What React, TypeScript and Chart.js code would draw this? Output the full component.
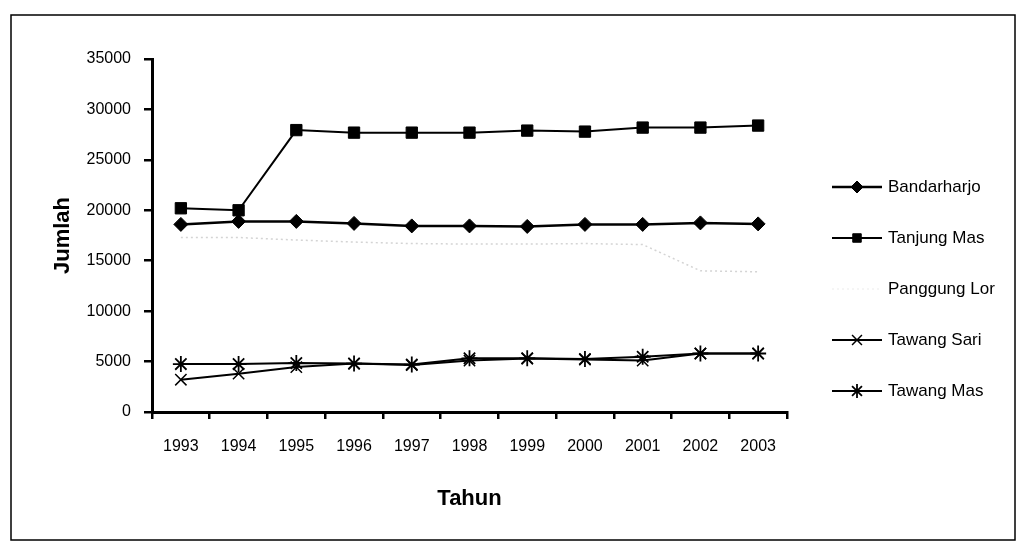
import React, { useEffect, useRef } from "react";
import { Chart, registerables } from "chart.js";
import { drawPoint } from "chart.js/helpers";

Chart.register(...registerables);

const years = ["1993", "1994", "1995", "1996", "1997", "1998", "1999", "2000", "2001", "2002", "2003"];
const bandarharjo = [18600, 18900, 18900, 18700, 18450, 18450, 18400, 18600, 18600, 18750, 18650];
const tanjungMas = [20200, 20000, 27950, 27700, 27700, 27700, 27900, 27800, 28200, 28200, 28400];
const panggungLor = [17300, 17300, 17050, 16850, 16700, 16650, 16650, 16700, 16600, 14000, 13900];
const tawangSari = [3200, 3800, 4450, 4800, 4650, 5100, 5300, 5200, 5100, 5800, 5800];
const tawangMas = [4750, 4750, 4850, 4800, 4700, 5320, 5320, 5250, 5480, 5800, 5800];
const yMin = 0;
const yMax = 35000;
const yStep = 5000;

const FONT = "'Liberation Sans', Arial, sans-serif";

const frameAndLegend = {
  id: "frameAndLegend",
  beforeDraw(chart: any) {
    const ctx = chart.ctx;
    ctx.save();
    ctx.fillStyle = "#ffffff";
    ctx.fillRect(0, 0, chart.width, chart.height);
    ctx.strokeStyle = "#000000";
    ctx.lineWidth = 1.5;
    ctx.strokeRect(11, 15, 1004, 525);
    ctx.restore();
  },
  afterDraw(chart: any) {
    const ctx = chart.ctx;
    ctx.save();
    chart.data.datasets.forEach((ds: any, i: number) => {
      const y = 187 + 51 * i;
      ctx.save();
      ctx.strokeStyle = ds.legendLineColor || ds.borderColor;
      ctx.lineWidth = ds.borderWidth;
      ctx.setLineDash(ds.borderDash || []);
      ctx.beginPath();
      ctx.moveTo(832, y);
      ctx.lineTo(882, y);
      ctx.stroke();
      ctx.restore();
      if (ds.pointRadius > 0) {
        ctx.save();
        ctx.fillStyle = ds.pointBackgroundColor;
        ctx.strokeStyle = ds.pointBorderColor;
        ctx.lineWidth = ds.pointBorderWidth;
        drawPoint(ctx, { pointStyle: ds.pointStyle, rotation: 0, borderWidth: ds.pointBorderWidth, radius: ds.legendRadius }, 857, y);
        ctx.restore();
      }
      ctx.fillStyle = "#000000";
      ctx.font = `17px ${FONT}`;
      ctx.textBaseline = "middle";
      ctx.textAlign = "left";
      ctx.fillText(ds.label, 888, y);
    });
    ctx.restore();
  },
};

export default function App() {
  const ref = useRef<HTMLCanvasElement | null>(null);

  useEffect(() => {
    document.body.style.margin = "0";
    const canvas = ref.current;
    if (!canvas) return;
    const chart = new Chart(canvas, {
      type: "line",
      data: {
        labels: years,
        datasets: [
          {
            label: "Bandarharjo",
            data: bandarharjo,
            borderColor: "#000000",
            borderWidth: 2.5,
            pointStyle: "rectRot",
            pointRadius: 7,
            pointBackgroundColor: "#000000",
            pointBorderColor: "#000000",
            pointBorderWidth: 1,
            legendRadius: 6,
          } as any,
          {
            label: "Tanjung Mas",
            data: tanjungMas,
            borderColor: "#000000",
            borderWidth: 2,
            pointStyle: "rect",
            pointRadius: 8,
            pointBackgroundColor: "#000000",
            pointBorderColor: "#000000",
            pointBorderWidth: 1,
            legendRadius: 6,
          } as any,
          {
            label: "Panggung Lor",
            data: panggungLor,
            borderColor: "#d4d4d4",
            legendLineColor: "#f2f2f2",
            borderWidth: 1.5,
            borderDash: [2, 3],
            pointRadius: 0,
            pointBackgroundColor: "#d4d4d4",
            pointBorderColor: "#d4d4d4",
            pointBorderWidth: 1,
            legendRadius: 0,
          } as any,
          {
            label: "Tawang Sari",
            data: tawangSari,
            borderColor: "#000000",
            borderWidth: 2,
            pointStyle: "crossRot",
            pointRadius: 8,
            pointBackgroundColor: "#000000",
            pointBorderColor: "#000000",
            pointBorderWidth: 1.5,
            legendRadius: 7,
          } as any,
          {
            label: "Tawang Mas",
            data: tawangMas,
            borderColor: "#000000",
            borderWidth: 2,
            pointStyle: "star",
            pointRadius: 8,
            pointBackgroundColor: "#000000",
            pointBorderColor: "#000000",
            pointBorderWidth: 1.8,
            legendRadius: 7,
          } as any,
        ],
      },
      options: {
        responsive: false,
        animation: false,
        devicePixelRatio: 1,
        layout: { padding: { left: 12, top: 59, right: 236, bottom: 12 } },
        plugins: {
          legend: { display: false },
          tooltip: { enabled: false },
        },
        elements: { line: { tension: 0 } },
        scales: {
          x: {
            type: "category",
            offset: true,
            grid: {
              offset: true,
              drawOnChartArea: false,
              drawTicks: true,
              tickLength: 7,
              color: "#000000",
              lineWidth: 2.5,
            },
            border: { display: true, color: "#000000", width: 3 },
            ticks: {
              color: "#000000",
              font: { family: FONT, size: 16 },
              padding: 18,
              maxRotation: 0,
              autoSkip: false,
            },
            title: {
              display: true,
              text: "Tahun",
              color: "#000000",
              font: { family: FONT, size: 22, weight: "bold" },
              padding: { top: 0, bottom: 28 },
            },
            afterFit: (scale: any) => {
              scale.height = 552 - 412 - 12;
            },
          },
          y: {
            min: yMin,
            max: yMax,
            grid: {
              drawOnChartArea: false,
              drawTicks: true,
              tickLength: 8,
              color: "#000000",
              lineWidth: 2.5,
            },
            border: { display: true, color: "#000000", width: 3 },
            ticks: {
              stepSize: yStep,
              color: "#000000",
              font: { family: FONT, size: 16 },
              padding: 13,
              callback: (v: any) => String(v),
            },
            title: {
              display: true,
              text: "Jumlah",
              color: "#000000",
              font: { family: FONT, size: 22, weight: "bold" },
              padding: { top: 38, bottom: 0 },
            },
            afterFit: (scale: any) => {
              scale.width = 152 - 12;
            },
          },
        },
      } as any,
      plugins: [frameAndLegend],
    });
    return () => chart.destroy();
  }, []);

  return (
    <div style={{ position: "absolute", left: 0, top: 0, width: 1023, height: 552 }}>
      <canvas ref={ref} width={1023} height={552} />
    </div>
  );
}
